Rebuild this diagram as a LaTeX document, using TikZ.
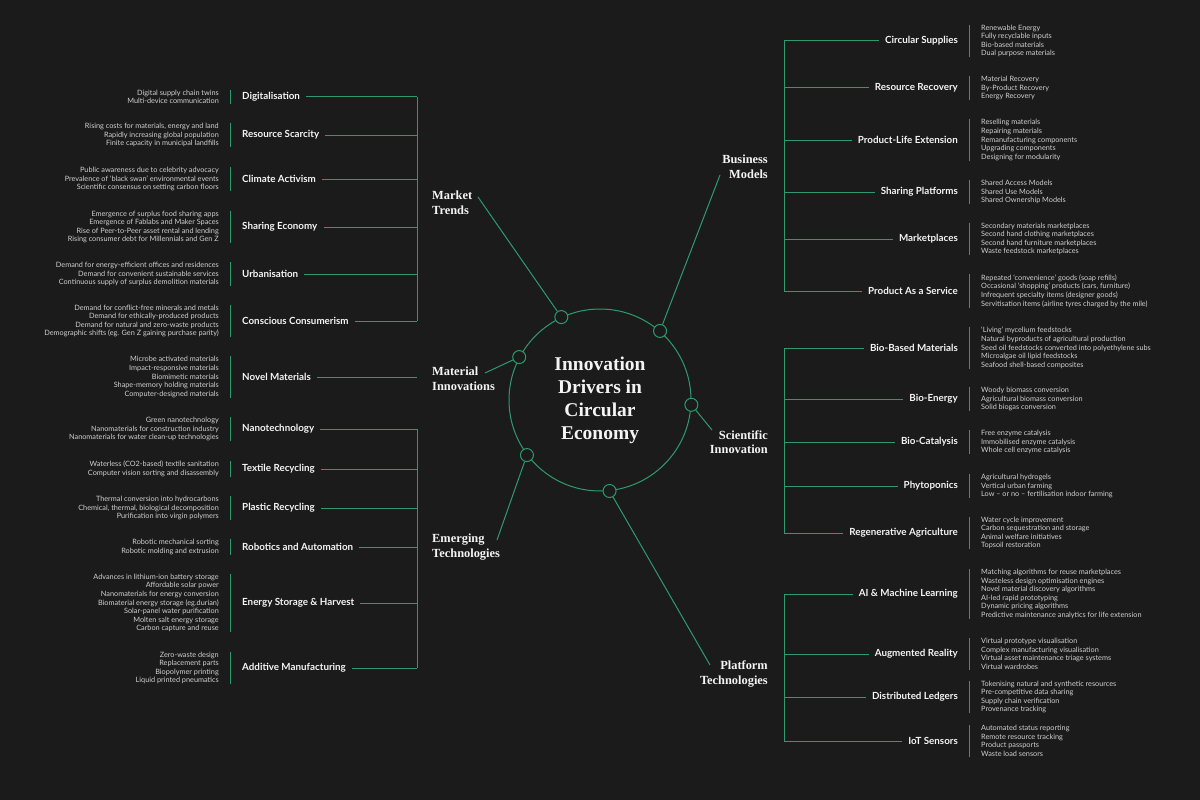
\documentclass[tikz,border=0pt]{standalone}
\usepackage{fontspec}
\setmainfont{Lato}
\newfontfamily\headfont{Liberation Serif}
\usetikzlibrary{positioning}

\definecolor{bg}{HTML}{1B1B1B}
\definecolor{stem}{HTML}{2D9A70}
\definecolor{ink}{HTML}{F4F4F4}
\definecolor{soft}{HTML}{D0D0D0}

\tikzset{
  hub/.style={circle, draw=stem, line width=1pt, minimum size=182pt, inner sep=0pt, align=center, text=ink, font=\headfont\bfseries\fontsize{19.5}{23}\selectfont},
  knot/.style={circle, draw=stem, fill=bg, line width=1pt, minimum size=13pt, inner sep=0pt},
  driver/.style={inner sep=0pt, text=ink, font=\headfont\bfseries\fontsize{12.4}{14.5}\selectfont},
  topic/.style={inner sep=0pt, text=ink, font=\bfseries\fontsize{9.8}{11}\selectfont},
  points/.style={inner sep=0pt, text=soft, font=\fontsize{7.3}{8.6}\selectfont},
  wire/.style={draw=stem, line width=1pt}
}

\begin{document}
\begin{tikzpicture}[x=1pt, y=-1pt, node distance=23pt]
\fill[bg] (0,0) rectangle (1200,800);

\node[hub] (hub) at (600,400) {\raisebox{-4pt}{\parbox{120pt}{\centering Innovation\\Drivers in\\Circular\\Economy}}};
\node[knot] (mtk) at (hub.115) {};
\node[knot] (bmk) at (hub.49) {};
\node[knot] (mik) at (hub.152) {};
\node[knot] (sik) at (hub.-3) {};
\node[knot] (etk) at (hub.217) {};
\node[knot] (ptk) at (hub.276) {};

\node[driver, anchor=west, align=left] (mt) at (432,203) {Market\\Trends};
\node[driver, anchor=west, align=left] (mi) at (432,379) {Material\\Innovations};
\node[driver, anchor=west, align=left] (et) at (432,547) {Emerging\\Technologies};
\node[driver, anchor=east, align=right] (bm) at (768,167) {Business\\Models};
\node[driver, anchor=east, align=right] (si) at (768,442) {Scientific\\Innovation};
\node[driver, anchor=east, align=right] (pt) at (768,674) {Platform\\Technologies};

\coordinate (mte) at (478,197);
\coordinate (mie) at (485,373);
\coordinate (ete) at (497,540);
\coordinate (bme) at (720,175);
\coordinate (sie) at (712,430);
\coordinate (pte) at (710,665);
\draw[wire] (mtk) -- (mte);
\draw[wire] (mik) -- (mie);
\draw[wire] (etk) -- (ete);
\draw[wire] (bmk) -- (bme);
\draw[wire] (sik) -- (sie);
\draw[wire] (ptk) -- (pte);

\coordinate (lspine) at (417,0);
\coordinate (rspine) at (784,0);

\node[topic, anchor=west] (dig) at (242,97) {Digitalisation};
\node[points, left=of dig, align=right] (digp) {Digital supply chain twins\\Multi-device communication};
\draw[wire] ([xshift=11pt]digp.north east) -- ([xshift=11pt]digp.south east) ([xshift=6pt]dig.east) -- (dig -| lspine);

\node[topic, anchor=west] (rs) at (242,135) {Resource Scarcity};
\node[points, left=of rs, align=right] (rsp) {Rising costs for materials, energy and land\\Rapidly increasing global population\\Finite capacity in municipal landfills};
\draw[wire] ([xshift=11pt]rsp.north east) -- ([xshift=11pt]rsp.south east) ([xshift=6pt]rs.east) -- (rs -| lspine);

\node[topic, anchor=west] (ca) at (242,179) {Climate Activism};
\node[points, left=of ca, align=right] (cap) {Public awareness due to celebrity advocacy\\Prevalence of ‘black swan’ environmental events\\Scientific consensus on setting carbon floors};
\draw[wire] ([xshift=11pt]cap.north east) -- ([xshift=11pt]cap.south east) ([xshift=6pt]ca.east) -- (ca -| lspine);

\node[topic, anchor=west] (se) at (242,227) {Sharing Economy};
\node[points, left=of se, align=right] (sep) {Emergence of surplus food sharing apps\\Emergence of Fablabs and Maker Spaces\\Rise of Peer-to-Peer asset rental and lending\\Rising consumer debt for Millennials and Gen Z};
\draw[wire] ([xshift=11pt]sep.north east) -- ([xshift=11pt]sep.south east) ([xshift=6pt]se.east) -- (se -| lspine);

\node[topic, anchor=west] (urb) at (242,274) {Urbanisation};
\node[points, left=of urb, align=right] (urbp) {Demand for energy-efficient offices and residences\\Demand for convenient sustainable services\\Continuous supply of surplus demolition materials};
\draw[wire] ([xshift=11pt]urbp.north east) -- ([xshift=11pt]urbp.south east) ([xshift=6pt]urb.east) -- (urb -| lspine);

\node[topic, anchor=west] (cc) at (242,321) {Conscious Consumerism};
\node[points, left=of cc, align=right] (ccp) {Demand for conflict-free minerals and metals\\Demand for ethically-produced products\\Demand for natural and zero-waste products\\Demographic shifts (eg. Gen Z gaining purchase parity)};
\draw[wire] ([xshift=11pt]ccp.north east) -- ([xshift=11pt]ccp.south east) ([xshift=6pt]cc.east) -- (cc -| lspine);

\node[topic, anchor=west] (nm) at (242,377) {Novel Materials};
\node[points, left=of nm, align=right] (nmp) {Microbe activated materials\\Impact-responsive materials\\Biomimetic materials\\Shape-memory holding materials\\Computer-designed materials};
\draw[wire] ([xshift=11pt]nmp.north east) -- ([xshift=11pt]nmp.south east) ([xshift=6pt]nm.east) -- (nm -| lspine);

\node[topic, anchor=west] (nano) at (242,429) {Nanotechnology};
\node[points, left=of nano, align=right] (nanop) {Green nanotechnology\\Nanomaterials for construction industry\\Nanomaterials for water clean-up technologies};
\draw[wire] ([xshift=11pt]nanop.north east) -- ([xshift=11pt]nanop.south east) ([xshift=6pt]nano.east) -- (nano -| lspine);

\node[topic, anchor=west] (tex) at (242,469) {Textile Recycling};
\node[points, left=of tex, align=right] (texp) {Waterless (CO2-based) textile sanitation\\Computer vision sorting and disassembly};
\draw[wire] ([xshift=11pt]texp.north east) -- ([xshift=11pt]texp.south east) ([xshift=6pt]tex.east) -- (tex -| lspine);

\node[topic, anchor=west] (pla) at (242,508) {Plastic Recycling};
\node[points, left=of pla, align=right] (plap) {Thermal conversion into hydrocarbons\\Chemical, thermal, biological decomposition\\Purification into virgin polymers};
\draw[wire] ([xshift=11pt]plap.north east) -- ([xshift=11pt]plap.south east) ([xshift=6pt]pla.east) -- (pla -| lspine);

\node[topic, anchor=west] (rob) at (242,547) {Robotics and Automation};
\node[points, left=of rob, align=right] (robp) {Robotic mechanical sorting\\Robotic molding and extrusion};
\draw[wire] ([xshift=11pt]robp.north east) -- ([xshift=11pt]robp.south east) ([xshift=6pt]rob.east) -- (rob -| lspine);

\node[topic, anchor=west] (esh) at (242,603) {Energy Storage \& Harvest};
\node[points, left=of esh, align=right] (eshp) {Advances in lithium-ion battery storage\\Affordable solar power\\Nanomaterials for energy conversion\\Biomaterial energy storage (eg.durian)\\Solar-panel water purification\\Molten salt energy storage\\Carbon capture and reuse};
\draw[wire] ([xshift=11pt]eshp.north east) -- ([xshift=11pt]eshp.south east) ([xshift=6pt]esh.east) -- (esh -| lspine);

\node[topic, anchor=west] (am) at (242,668) {Additive Manufacturing};
\node[points, left=of am, align=right] (amp) {Zero-waste design\\Replacement parts\\Biopolymer printing\\Liquid printed pneumatics};
\draw[wire] ([xshift=11pt]amp.north east) -- ([xshift=11pt]amp.south east) ([xshift=6pt]am.east) -- (am -| lspine);

\draw[wire] (dig -| lspine) -- (cc -| lspine);
\draw[wire] (nano -| lspine) -- (am -| lspine);

\node[topic, anchor=east] (cs) at (958,41) {Circular Supplies};
\node[points, right=of cs, align=left] (csp) {Renewable Energy\\Fully recyclable inputs\\Bio-based materials\\Dual purpose materials};
\draw[wire] ([xshift=-12pt]csp.north west) -- ([xshift=-12pt]csp.south west) (cs -| rspine) -- ([xshift=-6pt]cs.west);

\node[topic, anchor=east] (rr) at (958,88) {Resource Recovery};
\node[points, right=of rr, align=left] (rrp) {Material Recovery\\By-Product Recovery\\Energy Recovery};
\draw[wire] ([xshift=-12pt]rrp.north west) -- ([xshift=-12pt]rrp.south west) (rr -| rspine) -- ([xshift=-6pt]rr.west);

\node[topic, anchor=east] (ple) at (958,140) {Product-Life Extension};
\node[points, right=of ple, align=left] (plep) {Reselling materials\\Repairing materials\\Remanufacturing components\\Upgrading components\\Designing for modularity};
\draw[wire] ([xshift=-12pt]plep.north west) -- ([xshift=-12pt]plep.south west) (ple -| rspine) -- ([xshift=-6pt]ple.west);

\node[topic, anchor=east] (sp) at (958,192) {Sharing Platforms};
\node[points, right=of sp, align=left] (spp) {Shared Access Models\\Shared Use Models\\Shared Ownership Models};
\draw[wire] ([xshift=-12pt]spp.north west) -- ([xshift=-12pt]spp.south west) (sp -| rspine) -- ([xshift=-6pt]sp.west);

\node[topic, anchor=east] (mp) at (958,239) {Marketplaces};
\node[points, right=of mp, align=left] (mpp) {Secondary materials marketplaces\\Second hand clothing marketplaces\\Second hand furniture marketplaces\\Waste feedstock marketplaces};
\draw[wire] ([xshift=-12pt]mpp.north west) -- ([xshift=-12pt]mpp.south west) (mp -| rspine) -- ([xshift=-6pt]mp.west);

\node[topic, anchor=east] (paas) at (958,291) {Product As a Service};
\node[points, right=of paas, align=left] (paasp) {Repeated ‘convenience’ goods (soap refills)\\Occasional ‘shopping’ products (cars, furniture)\\Infrequent specialty items (designer goods)\\Servitisation items (airline tyres charged by the mile)};
\draw[wire] ([xshift=-12pt]paasp.north west) -- ([xshift=-12pt]paasp.south west) (paas -| rspine) -- ([xshift=-6pt]paas.west);

\node[topic, anchor=east] (bbm) at (958,348) {Bio-Based Materials};
\node[points, right=of bbm, align=left] (bbmp) {‘Living’ mycelium feedstocks\\Natural byproducts of agricultural production\\Seed oil feedstocks converted into polyethylene subs\\Microalgae oil lipid feedstocks\\Seafood shell-based composites};
\draw[wire] ([xshift=-12pt]bbmp.north west) -- ([xshift=-12pt]bbmp.south west) (bbm -| rspine) -- ([xshift=-6pt]bbm.west);

\node[topic, anchor=east] (be) at (958,399) {Bio-Energy};
\node[points, right=of be, align=left] (bep) {Woody biomass conversion\\Agricultural biomass conversion\\Solid biogas conversion};
\draw[wire] ([xshift=-12pt]bep.north west) -- ([xshift=-12pt]bep.south west) (be -| rspine) -- ([xshift=-6pt]be.west);

\node[topic, anchor=east] (bc) at (958,442) {Bio-Catalysis};
\node[points, right=of bc, align=left] (bcp) {Free enzyme catalysis\\Immobilised enzyme catalysis\\Whole cell enzyme catalysis};
\draw[wire] ([xshift=-12pt]bcp.north west) -- ([xshift=-12pt]bcp.south west) (bc -| rspine) -- ([xshift=-6pt]bc.west);

\node[topic, anchor=east] (phy) at (958,486) {Phytoponics};
\node[points, right=of phy, align=left] (phyp) {Agricultural hydrogels\\Vertical urban farming\\Low – or no – fertilisation indoor farming};
\draw[wire] ([xshift=-12pt]phyp.north west) -- ([xshift=-12pt]phyp.south west) (phy -| rspine) -- ([xshift=-6pt]phy.west);

\node[topic, anchor=east] (ra) at (958,533) {Regenerative Agriculture};
\node[points, right=of ra, align=left] (rap) {Water cycle improvement\\Carbon sequestration and storage\\Animal welfare initiatives\\Topsoil restoration};
\draw[wire] ([xshift=-12pt]rap.north west) -- ([xshift=-12pt]rap.south west) (ra -| rspine) -- ([xshift=-6pt]ra.west);

\node[topic, anchor=east] (ai) at (958,594) {AI \& Machine Learning};
\node[points, right=of ai, align=left] (aip) {Matching algorithms for reuse marketplaces\\Wasteless design optimisation engines\\Novel material discovery algorithms\\AI-led rapid prototyping\\Dynamic pricing algorithms\\Predictive maintenance analytics for life extension};
\draw[wire] ([xshift=-12pt]aip.north west) -- ([xshift=-12pt]aip.south west) (ai -| rspine) -- ([xshift=-6pt]ai.west);

\node[topic, anchor=east] (ar) at (958,654) {Augmented Reality};
\node[points, right=of ar, align=left] (arp) {Virtual prototype visualisation\\Complex manufacturing visualisation\\Virtual asset maintenance triage systems\\Virtual wardrobes};
\draw[wire] ([xshift=-12pt]arp.north west) -- ([xshift=-12pt]arp.south west) (ar -| rspine) -- ([xshift=-6pt]ar.west);

\node[topic, anchor=east] (dl) at (958,697) {Distributed Ledgers};
\node[points, right=of dl, align=left] (dlp) {Tokenising natural and synthetic resources\\Pre-competitive data sharing\\Supply chain verification\\Provenance tracking};
\draw[wire] ([xshift=-12pt]dlp.north west) -- ([xshift=-12pt]dlp.south west) (dl -| rspine) -- ([xshift=-6pt]dl.west);

\node[topic, anchor=east] (iot) at (958,741) {IoT Sensors};
\node[points, right=of iot, align=left] (iotp) {Automated status reporting\\Remote resource tracking\\Product passports\\Waste load sensors};
\draw[wire] ([xshift=-12pt]iotp.north west) -- ([xshift=-12pt]iotp.south west) (iot -| rspine) -- ([xshift=-6pt]iot.west);

\draw[wire] (cs -| rspine) -- (paas -| rspine);
\draw[wire] (bbm -| rspine) -- (ra -| rspine);
\draw[wire] (ai -| rspine) -- (iot -| rspine);
\end{tikzpicture}
\end{document}
